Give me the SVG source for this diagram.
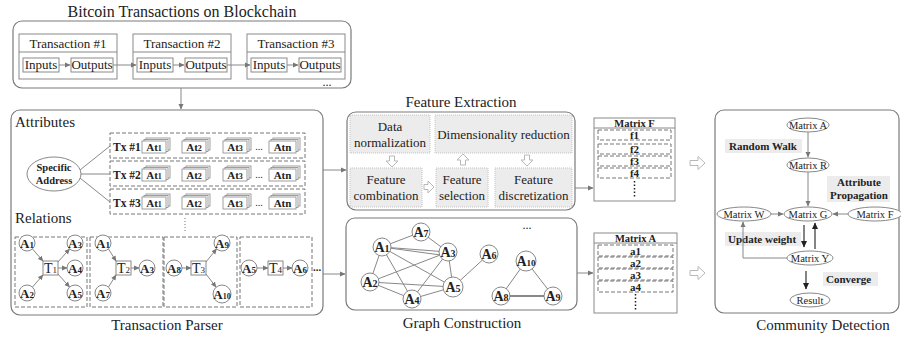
<svg xmlns="http://www.w3.org/2000/svg" xmlns:xlink="http://www.w3.org/1999/xlink" width="901" height="340" viewBox="0 0 901 340">
<style>
.t{font-family:"Liberation Serif",serif;fill:#222}
.m{text-anchor:middle}
.b{font-weight:bold}
.rb{fill:#fff;stroke:#7a7a7a;stroke-width:1.2}
.bx{fill:#fff;stroke:#8a8a8a;stroke-width:1}
.ds{fill:none;stroke:#777;stroke-width:1;stroke-dasharray:4,2}
.ln{stroke:#888;stroke-width:1;fill:none}
.dk{stroke:#333;stroke-width:1.2;fill:none}
.cd{fill:#fff;stroke:#888;stroke-width:0.8}
.fb{fill:#ececec;stroke:#c4c4c4;stroke-width:1;stroke-dasharray:1,1}
.ha{fill:#fff;stroke:#b8b8b8;stroke-width:1}
.nc{fill:#fff;stroke:#888;stroke-width:1}
.lb{fill:#ececec}
</style>
<defs>
<marker id="ah" markerWidth="6" markerHeight="6" refX="5" refY="3" orient="auto" markerUnits="userSpaceOnUse"><path d="M0,0.5 L5.5,3 L0,5.5 z" fill="#777"/></marker>
<marker id="ahd" markerWidth="7" markerHeight="7" refX="6" refY="3.5" orient="auto" markerUnits="userSpaceOnUse"><path d="M0,0.5 L6.5,3.5 L0,6.5 z" fill="#222"/></marker>
<g id="stk24"><rect x="4" y="-3" width="24" height="12" class="cd"/><rect x="2" y="-1.5" width="24" height="12" class="cd"/><rect x="0" y="0" width="24" height="12" class="cd"/></g>
<g id="stk26"><rect x="4" y="-3" width="27" height="12" class="cd"/><rect x="2" y="-1.5" width="27" height="12" class="cd"/><rect x="0" y="0" width="27" height="12" class="cd"/></g>
</defs>

<g id="blockchain">
<text x="182" y="17" class="t m" font-size="16">Bitcoin Transactions on Blockchain</text>
<rect x="13" y="21" width="338" height="67" rx="9" class="rb"/>
<g id="tx1">
<rect x="19" y="34" width="98" height="45" class="bx"/><line x1="19" y1="52" x2="117" y2="52" class="ln"/>
<text x="68" y="48" class="t m" font-size="13">Transaction #1</text>
<rect x="23" y="58" width="36" height="14" class="bx"/><text x="41" y="69" class="t m" font-size="13">Inputs</text>
<rect x="71" y="58" width="42" height="14" class="bx"/><text x="92" y="69" class="t m" font-size="13">Outputs</text>
</g>
<g id="tx2">
<rect x="133" y="34" width="98" height="45" class="bx"/><line x1="133" y1="52" x2="231" y2="52" class="ln"/>
<text x="182" y="48" class="t m" font-size="13">Transaction #2</text>
<rect x="137" y="58" width="36" height="14" class="bx"/><text x="155" y="69" class="t m" font-size="13">Inputs</text>
<rect x="185" y="58" width="42" height="14" class="bx"/><text x="206" y="69" class="t m" font-size="13">Outputs</text>
</g>
<g id="tx3">
<rect x="247" y="34" width="98" height="45" class="bx"/><line x1="247" y1="52" x2="345" y2="52" class="ln"/>
<text x="296" y="48" class="t m" font-size="13">Transaction #3</text>
<rect x="251" y="58" width="36" height="14" class="bx"/><text x="269" y="69" class="t m" font-size="13">Inputs</text>
<rect x="299" y="58" width="42" height="14" class="bx"/><text x="320" y="69" class="t m" font-size="13">Outputs</text>
</g>
<text x="327" y="86" class="t m" font-size="12">...</text>
</g>

<g id="parser">
<rect x="11" y="110" width="312" height="205" rx="9" class="rb"/>
<text x="15" y="127" class="t" font-size="15">Attributes</text>
<text x="15" y="223" class="t" font-size="15">Relations</text>
<text x="167" y="330" class="t m" font-size="15">Transaction Parser</text>
<g id="specific-address">
<ellipse cx="54" cy="174" rx="27" ry="17" class="nc"/>
<text x="54" y="171" class="t m b" font-size="10.5">Specific</text>
<text x="54" y="184" class="t m b" font-size="10.5">Address</text>
</g>
<g id="tx-row1">
<rect x="110" y="133" width="195" height="25" class="ds"/>
<text x="113" y="151" class="t b" font-size="11.5">Tx #1</text>
<use xlink:href="#stk24" x="142" y="141"/><text x="154" y="151" class="t m b" font-size="11">At<tspan font-size="8">1</tspan></text>
<use xlink:href="#stk24" x="182" y="141"/><text x="194" y="151" class="t m b" font-size="11">At<tspan font-size="8">2</tspan></text>
<use xlink:href="#stk24" x="223" y="141"/><text x="235" y="151" class="t m b" font-size="11">At<tspan font-size="8">3</tspan></text>
<text x="259" y="150" class="t m" font-size="10">...</text>
<use xlink:href="#stk26" x="269" y="141"/><text x="282.5" y="151" class="t m b" font-size="11">Atn</text>
</g>
<g id="tx-row2">
<rect x="110" y="161" width="195" height="25" class="ds"/>
<text x="113" y="179" class="t b" font-size="11.5">Tx #2</text>
<use xlink:href="#stk24" x="142" y="169"/><text x="154" y="179" class="t m b" font-size="11">At<tspan font-size="8">1</tspan></text>
<use xlink:href="#stk24" x="182" y="169"/><text x="194" y="179" class="t m b" font-size="11">At<tspan font-size="8">2</tspan></text>
<use xlink:href="#stk24" x="223" y="169"/><text x="235" y="179" class="t m b" font-size="11">At<tspan font-size="8">3</tspan></text>
<text x="259" y="178" class="t m" font-size="10">...</text>
<use xlink:href="#stk26" x="269" y="169"/><text x="282.5" y="179" class="t m b" font-size="11">Atn</text>
</g>
<g id="tx-row3">
<rect x="110" y="189" width="195" height="25" class="ds"/>
<text x="113" y="207" class="t b" font-size="11.5">Tx #3</text>
<use xlink:href="#stk24" x="142" y="197"/><text x="154" y="207" class="t m b" font-size="11">At<tspan font-size="8">1</tspan></text>
<use xlink:href="#stk24" x="182" y="197"/><text x="194" y="207" class="t m b" font-size="11">At<tspan font-size="8">2</tspan></text>
<use xlink:href="#stk24" x="223" y="197"/><text x="235" y="207" class="t m b" font-size="11">At<tspan font-size="8">3</tspan></text>
<text x="259" y="206" class="t m" font-size="10">...</text>
<use xlink:href="#stk26" x="269" y="197"/><text x="282.5" y="207" class="t m b" font-size="11">Atn</text>
</g>
<line x1="185" y1="218" x2="185" y2="233" stroke="#777" stroke-width="1" stroke-dasharray="1,2"/>
<g id="rel1">
<rect x="15" y="237" width="72" height="70" class="ds"/>
<circle cx="27" cy="243" r="8" class="nc"/><text x="27" y="247.5" class="t m b" font-size="13">A<tspan font-size="9">1</tspan></text>
<circle cx="27" cy="293" r="8" class="nc"/><text x="27" y="297.5" class="t m b" font-size="13">A<tspan font-size="9">2</tspan></text>
<circle cx="75" cy="243" r="8" class="nc"/><text x="75" y="247.5" class="t m b" font-size="13">A<tspan font-size="9">3</tspan></text>
<circle cx="75" cy="268" r="8" class="nc"/><text x="75" y="272.5" class="t m b" font-size="13">A<tspan font-size="9">4</tspan></text>
<circle cx="75" cy="293" r="8" class="nc"/><text x="75" y="297.5" class="t m b" font-size="13">A<tspan font-size="9">5</tspan></text>
<rect x="43" y="261" width="15" height="14" class="bx"/><text x="50.5" y="273" class="t m" font-size="14">T<tspan font-size="9">1</tspan></text>
</g>
<g id="rel2">
<rect x="90" y="237" width="73" height="70" class="ds"/>
<circle cx="103" cy="243" r="8" class="nc"/><text x="103" y="247.5" class="t m b" font-size="13">A<tspan font-size="9">1</tspan></text>
<circle cx="103" cy="293" r="8" class="nc"/><text x="103" y="297.5" class="t m b" font-size="13">A<tspan font-size="9">7</tspan></text>
<circle cx="147" cy="268" r="8" class="nc"/><text x="147" y="272.5" class="t m b" font-size="13">A<tspan font-size="9">3</tspan></text>
<rect x="116" y="261" width="15" height="14" class="bx"/><text x="123.5" y="273" class="t m" font-size="14">T<tspan font-size="9">2</tspan></text>
</g>
<g id="rel3">
<rect x="164" y="237" width="73" height="70" class="ds"/>
<circle cx="174" cy="268" r="8" class="nc"/><text x="174" y="272.5" class="t m b" font-size="13">A<tspan font-size="9">8</tspan></text>
<circle cx="222" cy="243" r="8" class="nc"/><text x="222" y="247.5" class="t m b" font-size="13">A<tspan font-size="9">9</tspan></text>
<circle cx="222" cy="294" r="9" class="nc"/><text x="222" y="298.5" class="t m b" font-size="13">A<tspan font-size="8">10</tspan></text>
<rect x="191" y="261" width="15" height="14" class="bx"/><text x="198.5" y="273" class="t m" font-size="14">T<tspan font-size="9">3</tspan></text>
</g>
<g id="rel4">
<rect x="240" y="237" width="72" height="70" class="ds"/>
<circle cx="249" cy="268" r="8" class="nc"/><text x="249" y="272.5" class="t m b" font-size="13">A<tspan font-size="9">5</tspan></text>
<circle cx="300" cy="268" r="8" class="nc"/><text x="300" y="272.5" class="t m b" font-size="13">A<tspan font-size="9">6</tspan></text>
<rect x="268" y="261" width="15" height="14" class="bx"/><text x="275.5" y="273" class="t m" font-size="14">T<tspan font-size="9">4</tspan></text>
<text x="317" y="271" class="t m b" font-size="11">...</text>
</g>
</g>

<g id="feature-extraction">
<text x="461" y="107" class="t m" font-size="15">Feature Extraction</text>
<rect x="347" y="112" width="228" height="98" rx="9" class="rb"/>
<rect x="350" y="115" width="80" height="38" class="fb"/>
<text x="390" y="131" class="t m" font-size="13" fill="#333">Data</text>
<text x="390" y="147" class="t m" font-size="13">normalization</text>
<rect x="435" y="115" width="137" height="38" class="fb"/>
<text x="503.5" y="139" class="t m" font-size="13">Dimensionality reduction</text>
<rect x="350" y="168" width="72" height="39" class="fb"/>
<text x="386" y="184" class="t m" font-size="13">Feature</text>
<text x="386" y="200" class="t m" font-size="13">combination</text>
<rect x="436" y="168" width="52" height="39" class="fb"/>
<text x="462" y="184" class="t m" font-size="13">Feature</text>
<text x="462" y="200" class="t m" font-size="13">selection</text>
<rect x="495" y="168" width="77" height="39" class="fb"/>
<text x="533.5" y="184" class="t m" font-size="13">Feature</text>
<text x="533.5" y="200" class="t m" font-size="13">discretization</text>
<path d="M389.5,156 h5 v5 h3.5 l-6,6 l-6,-6 h3.5 z" class="ha"/>
<path d="M424,184.5 h4 v-3.5 l6,6 l-6,6 v-3.5 h-4 z" class="ha"/>
<path d="M460.5,165 v-5 h-3.5 l6,-6 l6,6 h-3.5 v5 z" class="ha"/>
<path d="M524.5,155 h5 v5 h3.5 l-6,6 l-6,-6 h3.5 z" class="ha"/>
</g>

<g id="graph-construction">
<rect x="346" y="218" width="231" height="92" rx="9" class="rb"/>
<text x="462" y="328" class="t m" font-size="15">Graph Construction</text>
<text x="527" y="229" class="t m" font-size="12">...</text>
<g class="ln">
<line x1="382" y1="247" x2="421" y2="232"/>
<line x1="421" y1="232" x2="448" y2="252"/>
<line x1="382" y1="247" x2="448" y2="252"/>
<line x1="382" y1="247" x2="448" y2="256"/>
<line x1="382" y1="247" x2="370" y2="282"/>
<line x1="382" y1="247" x2="412" y2="299"/>
<line x1="382" y1="247" x2="453" y2="287"/>
<line x1="448" y1="252" x2="370" y2="282"/>
<line x1="448" y1="252" x2="412" y2="299"/>
<line x1="448" y1="252" x2="453" y2="287"/>
<line x1="370" y1="282" x2="453" y2="287"/>
<line x1="370" y1="282" x2="412" y2="299"/>
<line x1="412" y1="299" x2="453" y2="287"/>
<line x1="453" y1="287" x2="489" y2="254"/>
<line x1="526" y1="261" x2="501" y2="296"/>
<line x1="526" y1="261" x2="553" y2="296"/>
<line x1="501" y1="296" x2="553" y2="296" stroke-width="2"/>
</g>
<circle cx="421" cy="232" r="9" class="nc"/><text x="421" y="237" class="t m b" font-size="14">A<tspan font-size="10">7</tspan></text>
<circle cx="382" cy="247" r="9" class="nc"/><text x="382" y="252" class="t m b" font-size="14">A<tspan font-size="10">1</tspan></text>
<circle cx="448" cy="252" r="9" class="nc"/><text x="448" y="257" class="t m b" font-size="14">A<tspan font-size="10">3</tspan></text>
<circle cx="489" cy="254" r="9" class="nc"/><text x="489" y="259" class="t m b" font-size="14">A<tspan font-size="10">6</tspan></text>
<circle cx="526" cy="261" r="10" class="nc"/><text x="526" y="266" class="t m b" font-size="14">A<tspan font-size="9">10</tspan></text>
<circle cx="370" cy="282" r="9" class="nc"/><text x="370" y="287" class="t m b" font-size="14">A<tspan font-size="10">2</tspan></text>
<circle cx="453" cy="287" r="10" class="nc"/><text x="453" y="292" class="t m b" font-size="14">A<tspan font-size="10">5</tspan></text>
<circle cx="412" cy="299" r="9" class="nc"/><text x="412" y="304" class="t m b" font-size="14">A<tspan font-size="10">4</tspan></text>
<circle cx="501" cy="296" r="9" class="nc"/><text x="501" y="301" class="t m b" font-size="14">A<tspan font-size="10">8</tspan></text>
<circle cx="553" cy="296" r="9" class="nc"/><text x="553" y="301" class="t m b" font-size="14">A<tspan font-size="10">9</tspan></text>
</g>

<g id="matrix-f">
<rect x="594" y="118" width="81" height="83" class="bx"/>
<line x1="594" y1="128" x2="675" y2="128" class="ln"/>
<text x="634.5" y="126.5" class="t m b" font-size="10.5">Matrix F</text>
<rect x="598" y="130" width="73" height="10" class="ds"/><text x="634.5" y="139" class="t m b" font-size="11">f1</text>
<rect x="598" y="144" width="73" height="10" class="ds"/><text x="634.5" y="153" class="t m b" font-size="11">f2</text>
<rect x="598" y="156" width="73" height="10" class="ds"/><text x="634.5" y="165" class="t m b" font-size="11">f3</text>
<rect x="598" y="168" width="73" height="10" class="ds"/><text x="634.5" y="177" class="t m b" font-size="11">f4</text>
<line x1="634.5" y1="181" x2="634.5" y2="198" stroke="#222" stroke-width="1.5" stroke-dasharray="1.5,2"/>
</g>

<g id="matrix-a">
<rect x="594" y="233" width="83" height="80" class="bx"/>
<line x1="594" y1="243" x2="677" y2="243" class="ln"/>
<text x="635.5" y="241.5" class="t m b" font-size="10.5">Matrix A</text>
<rect x="598" y="245" width="75" height="11" class="ds"/><text x="635.5" y="254.5" class="t m b" font-size="11">a1</text>
<rect x="598" y="257" width="75" height="11" class="ds"/><text x="635.5" y="266.5" class="t m b" font-size="11">a2</text>
<rect x="598" y="269" width="75" height="11" class="ds"/><text x="635.5" y="278.5" class="t m b" font-size="11">a3</text>
<rect x="598" y="281" width="75" height="11" class="ds"/><text x="635.5" y="290.5" class="t m b" font-size="11">a4</text>
<line x1="635.5" y1="294" x2="635.5" y2="310" stroke="#222" stroke-width="1.5" stroke-dasharray="1.5,2"/>
</g>

<g id="community-detection">
<rect x="715" y="110" width="184" height="203" rx="9" class="rb"/>
<text x="823" y="330" class="t m" font-size="15">Community Detection</text>
<rect x="725" y="139" width="77" height="14" class="lb"/>
<text x="729" y="150" class="t b" font-size="11">Random Walk</text>
<rect x="827" y="176" width="63" height="26" class="lb"/>
<text x="859" y="186" class="t m b" font-size="11">Attribute</text>
<text x="859" y="199" class="t m b" font-size="11">Propagation</text>
<rect x="725" y="232" width="76" height="14" class="lb"/>
<text x="728" y="243" class="t b" font-size="11">Update weight</text>
<rect x="823" y="272" width="55" height="14" class="lb"/>
<text x="826" y="283" class="t b" font-size="11">Converge</text>
<ellipse cx="808" cy="125" rx="21" ry="7" class="nc"/><text x="808" y="129" class="t m" font-size="10.5">Matrix A</text>
<ellipse cx="808" cy="165" rx="21" ry="7" class="nc"/><text x="808" y="169" class="t m" font-size="10.5">Matrix R</text>
<ellipse cx="808" cy="214" rx="24" ry="7" class="nc"/><text x="808" y="218" class="t m" font-size="10.5">Matrix G</text>
<ellipse cx="744" cy="214" rx="27" ry="7" class="nc"/><text x="744" y="218" class="t m" font-size="10.5">Matrix W</text>
<ellipse cx="875" cy="214" rx="27" ry="7" class="nc"/><text x="875" y="218" class="t m" font-size="10.5">Matrix F</text>
<ellipse cx="810" cy="258" rx="23" ry="7" class="nc"/><text x="810" y="262" class="t m" font-size="10.5">Matrix Y</text>
<ellipse cx="810" cy="300" rx="20" ry="7" class="nc"/><text x="810" y="304" class="t m" font-size="10.5">Result</text>
</g>

<g id="connectors">
<line x1="59" y1="65" x2="70" y2="65" class="ln" marker-end="url(#ah)"/>
<line x1="173" y1="65" x2="184" y2="65" class="ln" marker-end="url(#ah)"/>
<line x1="287" y1="65" x2="298" y2="65" class="ln" marker-end="url(#ah)"/>
<line x1="113" y1="65" x2="136" y2="65" class="ln" marker-end="url(#ah)"/>
<line x1="227" y1="65" x2="250" y2="65" class="ln" marker-end="url(#ah)"/>
<line x1="181" y1="88" x2="181" y2="109" class="ln" marker-end="url(#ah)"/>
<line x1="80" y1="170" x2="110" y2="146" class="ln"/>
<line x1="81" y1="174" x2="110" y2="174" class="ln"/>
<line x1="80" y1="178" x2="110" y2="202" class="ln"/>
<line x1="32.5" y1="249" x2="43" y2="261" class="ln" marker-end="url(#ah)"/>
<line x1="32.5" y1="287" x2="43" y2="275" class="ln" marker-end="url(#ah)"/>
<line x1="58" y1="262" x2="69.5" y2="249" class="ln" marker-end="url(#ah)"/>
<line x1="58" y1="268" x2="67" y2="268" class="ln" marker-end="url(#ah)"/>
<line x1="58" y1="274" x2="69.5" y2="287" class="ln" marker-end="url(#ah)"/>
<line x1="108.5" y1="249" x2="116" y2="261" class="ln" marker-end="url(#ah)"/>
<line x1="108.5" y1="287" x2="116" y2="275" class="ln" marker-end="url(#ah)"/>
<line x1="131" y1="268" x2="139" y2="268" class="ln" marker-end="url(#ah)"/>
<line x1="182" y1="268" x2="191" y2="268" class="ln" marker-end="url(#ah)"/>
<line x1="206" y1="262" x2="216.5" y2="249" class="ln" marker-end="url(#ah)"/>
<line x1="206" y1="274" x2="216" y2="287" class="ln" marker-end="url(#ah)"/>
<line x1="257" y1="268" x2="268" y2="268" class="ln" marker-end="url(#ah)"/>
<line x1="283" y1="268" x2="292" y2="268" class="ln" marker-end="url(#ah)"/>
<line x1="323" y1="170" x2="346" y2="170" class="ln" marker-end="url(#ah)"/>
<line x1="323" y1="274" x2="345" y2="274" class="ln" marker-end="url(#ah)"/>
<line x1="575" y1="188" x2="593" y2="188" class="ln" marker-end="url(#ah)"/>
<line x1="577" y1="273" x2="593" y2="273" class="ln" marker-end="url(#ah)"/>
<path d="M690,160.5 h8 v-4 l7,6.5 l-7,6.5 v-4 h-8 z" class="ha"/>
<path d="M690,270.5 h8 v-4 l7,6.5 l-7,6.5 v-4 h-8 z" class="ha"/>
<line x1="808" y1="132" x2="808" y2="157" class="ln" marker-end="url(#ah)"/>
<line x1="808" y1="172" x2="808" y2="206" class="ln" marker-end="url(#ah)"/>
<line x1="771" y1="214" x2="783" y2="214" class="ln" marker-end="url(#ah)"/>
<line x1="848" y1="214" x2="833" y2="214" class="ln" marker-end="url(#ah)"/>
<line x1="804" y1="225" x2="804" y2="247" class="dk" marker-end="url(#ahd)"/>
<line x1="815" y1="249" x2="815" y2="223" class="dk" marker-end="url(#ahd)"/>
<polyline points="787,258 743,258 743,222" class="ln" marker-end="url(#ah)"/>
<line x1="806" y1="271" x2="806" y2="289" class="dk" marker-end="url(#ahd)"/>
</g>
</svg>
